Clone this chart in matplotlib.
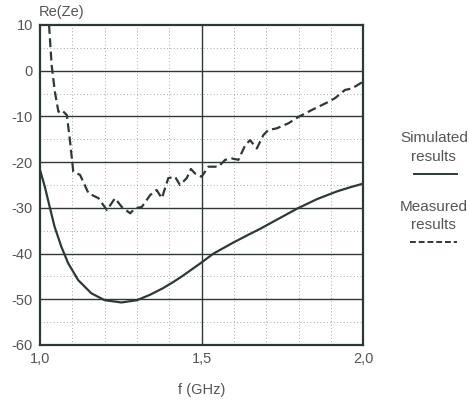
import matplotlib
matplotlib.use("Agg")
import matplotlib.pyplot as plt

plt.rcParams['font.family'] = ['Liberation Sans', 'DejaVu Sans']

# simulated Re(Ze) vs frequency (GHz)
sim_f = [1.000, 1.015, 1.030, 1.045, 1.066, 1.087, 1.118, 1.159, 1.200, 1.252,
         1.300, 1.341, 1.380, 1.413, 1.439, 1.495, 1.537, 1.598, 1.650, 1.681,
         1.743, 1.795, 1.857, 1.919, 1.960, 2.000]
sim_re = [-21.7, -25.4, -29.8, -34.1, -38.5, -42.1, -45.8, -48.7, -50.2, -50.7,
          -50.2, -49.0, -47.6, -46.2, -45.0, -42.2, -40.0, -37.6, -35.7, -34.6,
          -32.2, -30.2, -28.1, -26.4, -25.5, -24.7]

# measured Re(Ze)
meas_f = [1.028, 1.036, 1.046, 1.057, 1.067, 1.083, 1.093, 1.103, 1.124, 1.150,
          1.181, 1.207, 1.232, 1.253, 1.279, 1.294, 1.315, 1.341, 1.361, 1.377,
          1.397, 1.418, 1.433, 1.454, 1.467, 1.480, 1.500, 1.521, 1.552, 1.573,
          1.594, 1.614, 1.635, 1.650, 1.671, 1.691, 1.706, 1.733, 1.769, 1.800,
          1.841, 1.893, 1.913, 1.944, 1.965, 2.000]
meas_re = [10.0, 1.2, -4.6, -9.0, -8.6, -9.7, -15.5, -22.1, -22.8, -26.8,
           -27.9, -30.5, -27.9, -29.8, -31.2, -30.1, -29.8, -27.2, -26.1, -27.9,
           -23.5, -23.2, -25.0, -23.5, -21.5, -22.5, -23.2, -21.0, -21.0, -19.5,
           -19.2, -19.5, -16.3, -15.2, -17.0, -14.1, -13.0, -12.6, -11.5, -10.1,
           -8.6, -6.8, -6.0, -4.2, -3.9, -2.4]

x_ticks = [1.0, 1.5, 2.0]
x_labels = ["1,0", "1,5", "2,0"]
y_ticks = [10, 0, -10, -20, -30, -40, -50, -60]

ink = "#2c3a36"
txt = "#555555"

fig = plt.figure(figsize=(4.69, 4.01), dpi=100)
ax = fig.add_axes([0.0853, 0.1397, 0.689, 0.798])

ax.set_xlim(1.0, 2.0)
ax.set_ylim(-60, 10)

# grid: dotted minor lines, solid major
for v in [1.1, 1.2, 1.3, 1.4, 1.6, 1.7, 1.8, 1.9]:
    ax.axvline(v, color="#8a8a8a", lw=0.6, ls=(0, (1, 3)), zorder=1)
for v in [5, -5, -15, -25, -35, -45, -55]:
    ax.axhline(v, color="#8a8a8a", lw=0.6, ls=(0, (1, 3)), zorder=1)
for v in [0, -10, -20, -30, -40, -50]:
    ax.axhline(v, color=ink, lw=1.0, zorder=1)
ax.axvline(1.5, color=ink, lw=1.0, zorder=1)

ax.plot(sim_f, sim_re, color=ink, lw=1.6, zorder=3)
ax.plot(meas_f, meas_re, color=ink, lw=1.6, ls=(0, (4, 2)), zorder=3)

for s in ax.spines.values():
    s.set_color(ink)
    s.set_linewidth(1.6)

ax.set_xticks(x_ticks)
ax.set_xticklabels(x_labels)
ax.set_yticks(y_ticks)
ax.set_yticklabels([str(v) for v in y_ticks])
ax.tick_params(length=0, labelsize=10.5, colors=txt, pad=5)

ax.set_xlabel("f (GHz)", fontsize=10.5, color=txt, labelpad=12)
fig.text(0.083, 0.952, "Re(Ze)", fontsize=10.5, color=txt, ha="left", va="bottom")

# legend drawn by hand on the right
fig.text(0.925, 0.632, "Simulated\nresults", fontsize=11, color=txt,
         ha="center", va="center", linespacing=1.4)
fig.add_artist(plt.Line2D([0.882, 0.975], [0.566, 0.566], color=ink, lw=1.4,
                          transform=fig.transFigure))
fig.text(0.925, 0.461, "Measured\nresults", fontsize=11, color=txt,
         ha="center", va="center", linespacing=1.3)
fig.add_artist(plt.Line2D([0.875, 0.975], [0.397, 0.397], color=ink, lw=1.4,
                          ls=(0, (3, 1.5)), transform=fig.transFigure))

fig.savefig("out.png", dpi=100)
